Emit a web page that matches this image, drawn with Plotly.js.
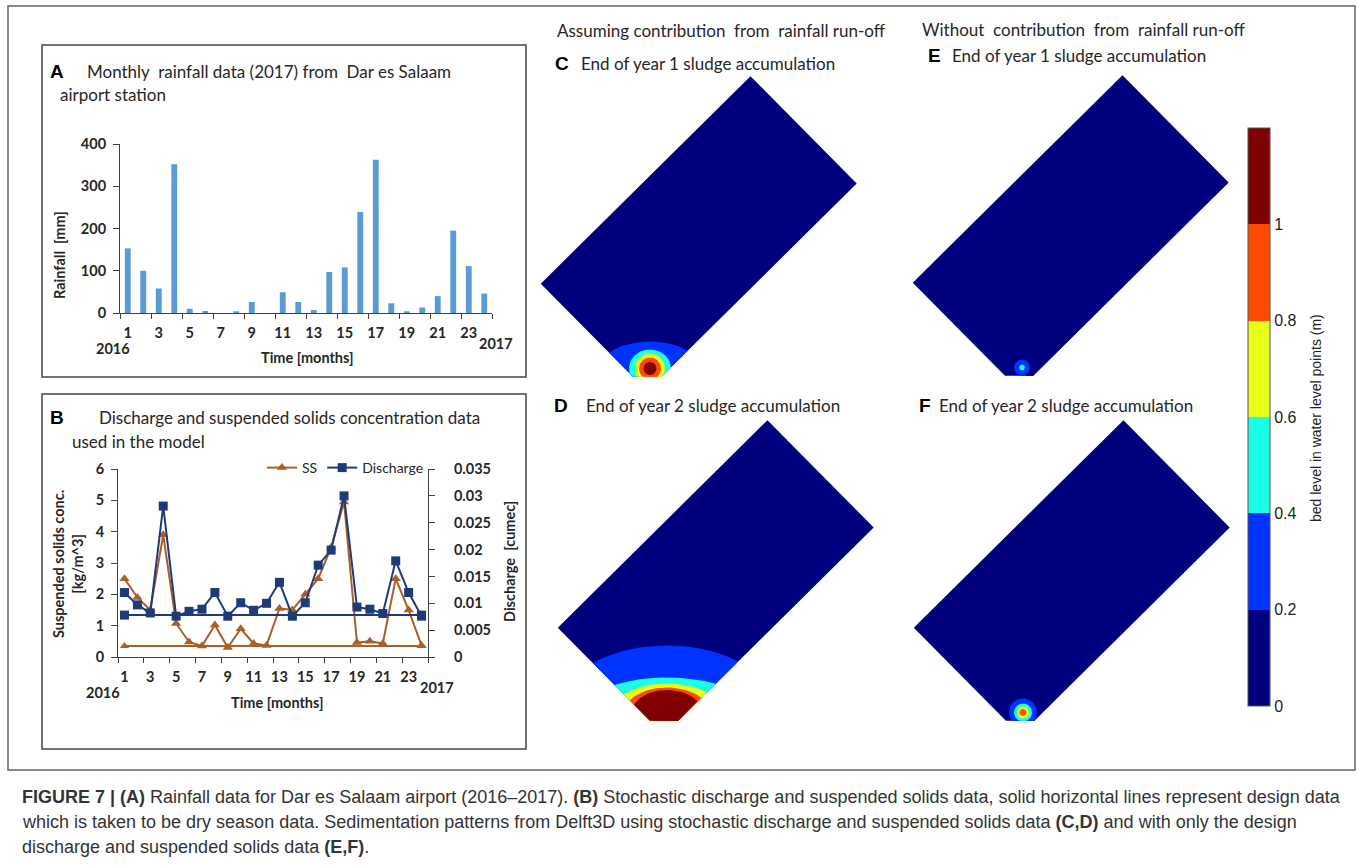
<!DOCTYPE html>
<html><head><meta charset="utf-8">
<script src="https://cdn.plot.ly/plotly-3.0.1.min.js"></script>
<style>html,body{margin:0;padding:0;background:#fff;} #chart{width:1357px;height:866px;}</style>
</head><body><div id="chart"></div>
<script>
// ---------------- DATA ----------------
const months = [1,2,3,4,5,6,7,8,9,10,11,12,13,14,15,16,17,18,19,20,21,22,23,24];
const monthTickVals = [1,3,5,7,9,11,13,15,17,19,21,23];
const monthTickText = ['1','3','5','7','9','11','13','15','17','19','21','23'];
// Panel A: monthly rainfall (mm)
const rainfall = [153,100,58,352,10,5,0,4,26,0,49,26,7,97,108,239,363,23,4,13,40,195,111,46];
// Panel B: suspended solids (kg/m^3) and discharge (cumec)
const ssConc = [2.5,1.9,1.5,3.9,1.07,0.48,0.35,1.02,0.3,0.9,0.43,0.37,1.55,1.5,2.0,2.5,3.5,4.95,0.46,0.5,0.43,2.5,1.5,0.37];
const discharge = [0.012,0.0097,0.0082,0.0281,0.0076,0.0085,0.0089,0.012,0.0076,0.0101,0.0087,0.0100,0.0139,0.0076,0.0101,0.0171,0.0199,0.030,0.0093,0.0089,0.0081,0.0179,0.012,0.0076];
const designMonths = [1,24];
const designSS = [0.35,0.35];
const designDischarge = [0.0078,0.0078];
const ssTicks = [0,1,2,3,4,5,6];
const dischargeTicks = [0,0.005,0.01,0.015,0.02,0.025,0.03,0.035];
const rainTicks = [0,100,200,300,400];
// Panels C-F: bed level classes
const bedLevelBounds = [0,0.2,0.4,0.6,0.8,1.0,1.2];
const bedLevelTicks = [0,0.2,0.4,0.6,0.8,1];
const bedLevelColors = ['#00007F','#0033FF','#1AFFE6','#E6FF1A','#FF4A00','#7F0000'];
// basin geometry (m)
const basinLength = 59, basinWidth = 30.2, inletCut = 4, basinAngle = 44.7;
const inletEast = 0.6, inletNorth = 4.5;
// extent (m) of area exceeding 0.2,0.4,0.6,0.8,1.0 m for each map
const cRx = [10,4.2,3,2.2,1.3],  cRy = [5.4,3.8,3,2.2,1.3];   // C: yr1, with run-off
const dRx = [22,17,11,8.5,7],    dRy = [13.4,7,5.8,5,4.5];    // D: yr2, with run-off
const eRx = [1.6,0.6,0,0,0],     eRy = [1.6,0.6,0,0,0];       // E: yr1, design only
const fRx = [2.8,1.8,1.2,0.7,0], fRy = [2.8,1.8,1.2,0.7,0];   // F: yr2, design only

// ---------------- LAYOUT HELPERS ----------------
const W = 1357, H = 866;
const px = x => x / W, py = y => 1 - y / H;
const tickFont = {family:'Lato, "Open Sans", sans-serif', size:14.5, color:'#262626', weight:'bold'};
const titleFont = {family:'Lato, "Open Sans", sans-serif', size:17, color:'#262626'};
const letterFont = {family:'"Liberation Sans", Arial, sans-serif', size:19, color:'#000', weight:'bold'};
const annotations = [];
function ann(text, x, y, font, opts) {
  annotations.push(Object.assign({text:text, x:px(x), y:py(y), xref:'paper', yref:'paper', showarrow:false, font:font, xanchor:'left', yanchor:'middle'}, opts||{}));
}

const traces = [];
// ---- Panel A ----
traces.push({type:'bar', x:months, y:rainfall, xaxis:'x', yaxis:'y', marker:{color:'#5B9BD5'}, width:0.38, showlegend:false, hoverinfo:'x+y'});
// ---- Panel B ----
const ssColor = '#A95F26', qColor = '#1F3A78';
traces.push({type:'scatter', mode:'lines+markers', name:'SS', x:months, y:ssConc, xaxis:'x2', yaxis:'y2', line:{color:ssColor, width:2}, marker:{symbol:'triangle-up', size:9, color:ssColor}});
traces.push({type:'scatter', mode:'lines+markers', name:'Discharge', x:months, y:discharge, xaxis:'x2', yaxis:'y3', line:{color:qColor, width:2}, marker:{symbol:'square', size:9, color:qColor}});
traces.push({type:'scatter', mode:'lines+markers', x:designMonths, y:designSS, xaxis:'x2', yaxis:'y2', line:{color:ssColor, width:2}, marker:{symbol:'triangle-up', size:8, color:ssColor}, showlegend:false});
traces.push({type:'scatter', mode:'lines+markers', x:designMonths, y:designDischarge, xaxis:'x2', yaxis:'y3', line:{color:qColor, width:2}, marker:{symbol:'square', size:9, color:qColor}, showlegend:false});

// ---- Maps ----
const th = basinAngle * Math.PI / 180;
function toPlot(u, v) { return [u*Math.cos(th) - v*Math.sin(th), u*Math.sin(th) + v*Math.cos(th)]; }
const basinPoly = [[inletCut,0],[basinLength,0],[basinLength,basinWidth],[0,basinWidth],[0,inletCut]].map(p => toPlot(p[0], p[1]));
function clipPoly(poly, clip) {
  let out = poly;
  for (let i = 0; i < clip.length; i++) {
    const a = clip[i], b = clip[(i+1) % clip.length];
    const side = p => (b[0]-a[0])*(p[1]-a[1]) - (b[1]-a[1])*(p[0]-a[0]);
    const inp = out; out = [];
    for (let j = 0; j < inp.length; j++) {
      const cur = inp[j], prev = inp[(j + inp.length - 1) % inp.length];
      const sc = side(cur), sp = side(prev);
      if (sc >= 0) {
        if (sp < 0) { const t = sp/(sp-sc); out.push([prev[0]+t*(cur[0]-prev[0]), prev[1]+t*(cur[1]-prev[1])]); }
        out.push(cur);
      } else if (sp >= 0) { const t = sp/(sp-sc); out.push([prev[0]+t*(cur[0]-prev[0]), prev[1]+t*(cur[1]-prev[1])]); }
    }
    if (!out.length) break;
  }
  return out;
}
function polyTrace(poly, color, ax) {
  const xs = poly.map(p => p[0]), ys = poly.map(p => p[1]);
  xs.push(xs[0]); ys.push(ys[0]);
  return {type:'scatter', mode:'lines', x:xs, y:ys, fill:'toself', fillcolor:color, line:{width:0, color:color}, xaxis:'x'+ax, yaxis:'y'+ax, hoverinfo:'skip', showlegend:false};
}
function addMap(ax, rx, ry) {
  traces.push(polyTrace(basinPoly, bedLevelColors[0], ax));
  for (let k = 0; k < rx.length; k++) {
    if (rx[k] <= 0) continue;
    const ell = [];
    for (let i = 0; i < 96; i++) { const a = 2*Math.PI*i/96; ell.push([inletEast + rx[k]*Math.cos(a), inletNorth + ry[k]*Math.sin(a)]); }
    const c = clipPoly(ell, basinPoly);
    if (c.length > 2) traces.push(polyTrace(c, bedLevelColors[k+1], ax));
  }
}
addMap(4, cRx, cRy); addMap(5, dRx, dRy); addMap(6, eRx, eRy); addMap(7, fRx, fRy);

// colour bar (from a heatmap kept outside the visible map range)
const nB = bedLevelColors.length, zTop = bedLevelBounds[nB];
const cs = [];
bedLevelColors.forEach((c, i) => { cs.push([bedLevelBounds[i]/zTop, c]); cs.push([bedLevelBounds[i+1]/zTop, c]); });
traces.push({type:'heatmap', x:[-200,-199], y:[-200], z:[[bedLevelBounds[0], zTop]], xaxis:'x4', yaxis:'y4', colorscale:cs, zmin:0, zmax:zTop, hoverinfo:'skip',
  colorbar:{x:px(1248), xanchor:'left', y:py(417), yanchor:'middle', len:578/H, lenmode:'fraction', thickness:22, thicknessmode:'pixels', xpad:0, ypad:0,
    outlinewidth:1, outlinecolor:'#555', tickvals:bedLevelTicks, ticktext:bedLevelTicks.map(String), ticks:'', ticklabelposition:'outside',
    tickfont:{family:'"Liberation Sans", Arial, sans-serif', size:16, color:'#222'}}});

// map axes: 5 px per metre, corner of basin at given pixel
const mapX = [-24, 45], mapY = [-2, 65];
function mapAxes(n, cornerX, cornerY) {
  const left = cornerX + mapX[0]*5, right = cornerX + mapX[1]*5;
  const bottom = cornerY - mapY[0]*5, top = cornerY - mapY[1]*5;
  return [{domain:[px(left), px(right)], range:mapX, visible:false, fixedrange:true, anchor:'y'+n},
          {domain:[py(bottom), py(top)], range:mapY, visible:false, fixedrange:true, anchor:'x'+n}];
}
const m4 = mapAxes(4, 647, 391), m5 = mapAxes(5, 664, 735), m6 = mapAxes(6, 1019, 390), m7 = mapAxes(7, 1020, 735);

const axLine = '#404040';
const layout = {
  width:W, height:H, margin:{l:0,r:0,t:0,b:0}, paper_bgcolor:'#fff', plot_bgcolor:'rgba(0,0,0,0)',
  showlegend:true,
  legend:{x:px(262), y:py(468), xanchor:'left', yanchor:'middle', orientation:'h', font:{family:'Lato, sans-serif', size:14, color:'#262626'}, bgcolor:'rgba(0,0,0,0)', itemwidth:30, tracegroupgap:0},
  xaxis:{domain:[px(120), px(492)], anchor:'y', range:[0.5,24.5], tickmode:'array', tickvals:monthTickVals, ticktext:monthTickText, ticks:'', ticklabelstandoff:7,
    showline:true, linecolor:axLine, showgrid:false, zeroline:false, tickfont:tickFont, fixedrange:true,
    minor:{tick0:0.5, dtick:2, ticks:'outside', ticklen:5, tickcolor:axLine, showgrid:false}},
  yaxis:{domain:[py(313), py(144)], anchor:'x', range:[0,400], tickmode:'array', tickvals:rainTicks, ticks:'outside', ticklen:6, tickcolor:axLine,
    showline:true, linecolor:axLine, showgrid:false, zeroline:false, tickfont:tickFont, fixedrange:true, ticklabelstandoff:4},
  xaxis2:{domain:[px(118), px(428)], anchor:'y2', range:[0.5,24.5], tickmode:'array', tickvals:monthTickVals, ticktext:monthTickText, ticks:'', ticklabelstandoff:7,
    showline:true, linecolor:axLine, showgrid:false, zeroline:false, tickfont:tickFont, fixedrange:true,
    minor:{tick0:0.5, dtick:2, ticks:'outside', ticklen:5, tickcolor:axLine, showgrid:false}},
  yaxis2:{domain:[py(657), py(469)], anchor:'x2', range:[0,6], tickmode:'array', tickvals:ssTicks, ticks:'outside', ticklen:6, tickcolor:axLine,
    showline:true, linecolor:axLine, showgrid:false, zeroline:false, tickfont:tickFont, fixedrange:true, ticklabelstandoff:4},
  yaxis3:{overlaying:'y2', side:'right', anchor:'x2', range:[0,0.035], tickmode:'array', tickvals:dischargeTicks, ticktext:dischargeTicks.map(String), ticks:'outside', ticklen:6, tickcolor:axLine,
    showline:true, linecolor:axLine, showgrid:false, zeroline:false, tickfont:tickFont, fixedrange:true, ticklabelstandoff:16},
  xaxis4:m4[0], yaxis4:m4[1], xaxis5:m5[0], yaxis5:m5[1], xaxis6:m6[0], yaxis6:m6[1], xaxis7:m7[0], yaxis7:m7[1],
  shapes:[
    {type:'rect', xref:'paper', yref:'paper', x0:px(8), x1:px(1355), y0:py(770), y1:py(6), line:{color:'#666', width:1.5}},
    {type:'rect', xref:'paper', yref:'paper', x0:px(42), x1:px(526), y0:py(377), y1:py(45), line:{color:'#444', width:1.5}},
    {type:'rect', xref:'paper', yref:'paper', x0:px(42), x1:px(526), y0:py(749), y1:py(394), line:{color:'#444', width:1.5}}
  ],
  annotations:annotations
};

// ---- Text ----
const axTitleFont = {family:'Lato, sans-serif', size:14.5, color:'#262626', weight:'bold'};
ann('A', 48, 71, letterFont);
ann('Monthly  rainfall data (2017) from  Dar es Salaam', 85, 71, titleFont);
ann('airport station', 58, 94, titleFont);
ann('Rainfall  [mm]', 59, 255, axTitleFont, {xanchor:'center', textangle:-90});
ann('Time [months]', 307, 357, axTitleFont, {xanchor:'center'});
ann('2016', 113, 348, tickFont, {xanchor:'center'});
ann('2017', 496, 344, tickFont, {xanchor:'center'});

ann('B', 48, 418, letterFont);
ann('Discharge and suspended solids concentration data', 97, 418, titleFont);
ann('used in the model', 70, 441, titleFont);
ann('Suspended solids conc.<br>[kg/m^3]', 68, 564, axTitleFont, {xanchor:'center', textangle:-90});
ann('Discharge  [cumec]', 509, 562, axTitleFont, {xanchor:'center', textangle:-90});
ann('Time [months]', 277, 702, axTitleFont, {xanchor:'center'});
ann('2016', 103, 692, tickFont, {xanchor:'center'});
ann('2017', 437, 687, tickFont, {xanchor:'center'});

const hdrFont = {family:'Lato, "Open Sans", sans-serif', size:17, color:'#262626'};
ann('Assuming contribution  from  rainfall run-off', 555, 31, hdrFont);
ann('Without  contribution  from  rainfall run-off', 920, 30, hdrFont);
ann('C', 553, 64, letterFont); ann('End of year 1 sludge accumulation', 579, 64, hdrFont);
ann('D', 552, 406, letterFont); ann('End of year 2 sludge accumulation', 584, 406, hdrFont);
ann('E', 926, 56, letterFont); ann('End of year 1 sludge accumulation', 950, 56, hdrFont);
ann('F', 917, 405, letterFont); ann('End of year 2 sludge accumulation', 937, 405, hdrFont);
ann('bed level in water level points (m)', 1316, 418, {family:'"Liberation Sans", Arial, sans-serif', size:14, color:'#222'}, {xanchor:'center', textangle:-90});

const capFont = {family:'"Liberation Sans", Arial, sans-serif', size:18, color:'#333'};
ann('<b>FIGURE 7 | (A)</b> Rainfall data for Dar es Salaam airport (2016–2017). <b>(B)</b> Stochastic discharge and suspended solids data, solid horizontal lines represent design data', 20, 797, capFont);
ann('which is taken to be dry season data. Sedimentation patterns from Delft3D using stochastic discharge and suspended solids data <b>(C,D)</b> and with only the design', 20, 822, capFont);
ann('discharge and suspended solids data <b>(E,F)</b>.', 20, 847, capFont);

Plotly.newPlot('chart', traces, layout, {staticPlot:true, displayModeBar:false});
</script></body></html>
